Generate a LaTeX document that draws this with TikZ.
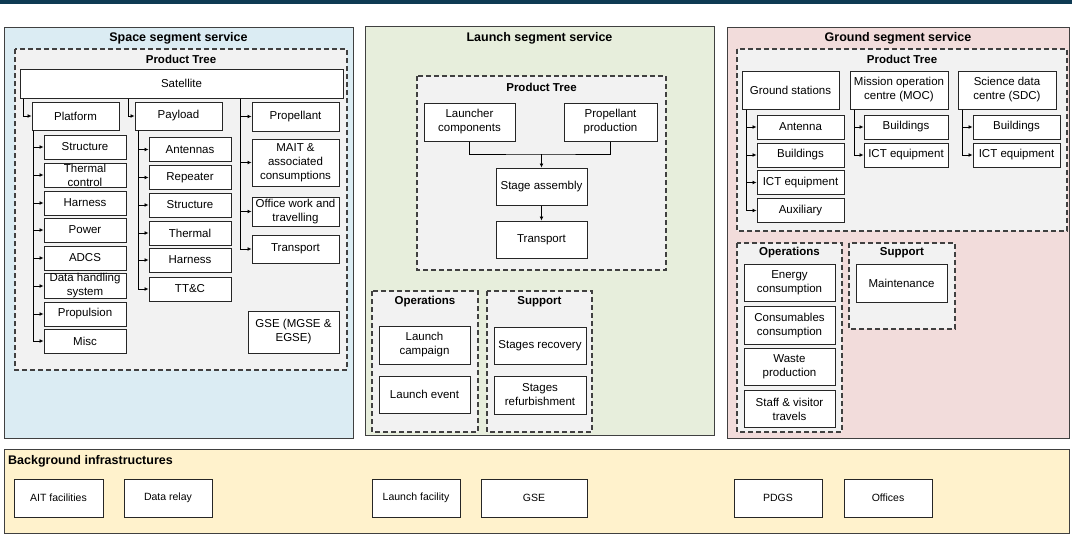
\documentclass[tikz,border=0pt]{standalone}
\usepackage{fontspec}
\setmainfont{Liberation Sans}
\usetikzlibrary{arrows.meta}
\definecolor{topbar}{HTML}{0E3A53}
\definecolor{spacebg}{HTML}{DBECF3}
\definecolor{launchbg}{HTML}{E7EEDC}
\definecolor{groundbg}{HTML}{F2DCDB}
\definecolor{infrabg}{HTML}{FFF2CC}
\definecolor{treebg}{HTML}{F2F2F2}
\definecolor{edge}{HTML}{404040}
\tikzset{
  segbox/.style={draw=edge, line width=1pt},
  treebox/.style={draw=edge, fill=treebg, line width=1.2pt, dash pattern=on 5pt off 3pt},
  leaf/.style={draw=black!85, fill=white, line width=1pt, align=center, inner xsep=1pt, inner ysep=0pt, font=\fontsize{11.5}{14}\selectfont},
  infra/.style={leaf, minimum height=38pt, font=\fontsize{10.5}{13}\selectfont},
  segtitle/.style={font=\bfseries\fontsize{12.5}{14}\selectfont},
  treetitle/.style={font=\bfseries\fontsize{11.5}{13}\selectfont},
  arr/.style={line width=1pt, -{Latex[length=4pt,width=4pt]}},
  link/.style={line width=1pt}
}
\begin{document}
\begin{tikzpicture}[x=1pt,y=-1pt]
	\fill[white] (0,0) rectangle (1072,536);
	\useasboundingbox (0,0) rectangle (1072,536);
	\fill[topbar] (0,0) rectangle (1072,4);

	% space segment
	\draw[segbox, fill=spacebg] (4,27) rectangle (353,438);
	\node[segtitle] (spacetitle) at (178.5,38) {Space segment service};
	\draw[treebox] (15,49) rectangle (347,370);
	\node[treetitle] (spacetree) at (181,59) {Product Tree};
	\node[leaf, minimum width=323pt, minimum height=29pt] (sat) at (181.5,83.5) {Satellite};
	\node[leaf, minimum width=87pt, minimum height=28pt] (pf) at (75.5,116) {Platform};
	\node[leaf, minimum width=87pt, minimum height=28pt] (pl) at (178.5,116) {Payload};
	\node[leaf, minimum width=87pt, minimum height=29pt] (prop) at (295.5,116.5) {Propellant};
	\draw[arr] (sat.south -| 23,0) |- (pf);
	\draw[arr] (sat.south -| 128,0) |- (pl);
	% platform
	\foreach \n/\y/\t in {pf1/147/Structure, pf2/175/{Thermal\\control}, pf3/203/Harness, pf4/230/Power,
		pf5/258/ADCS, pf6/286/{Data handling\\system}, pf7/314/Propulsion, pf8/341/Misc}
	{
		\node[leaf, minimum width=82pt, minimum height=24pt] (\n) at (85,\y) {\t};
		\draw[arr] ([xshift=2pt]pf.south west) |- (\n);
	}
	% payload
	\foreach \n/\y/\t in {pl1/149.5/Antennas, pl2/177.5/Repeater, pl3/205/Structure, pl4/233/Thermal,
		pl5/260/Harness, pl6/289/TT\&C}
	{
		\node[leaf, minimum width=82pt, minimum height=24pt] (\n) at (190,\y) {\t};
		\draw[arr] ([xshift=4pt]pl.south west) |- (\n);
	}
	% propellant column
	\node[leaf, minimum width=87pt, minimum height=47pt] (mait) at (295.5,162.5) {MAIT \&\\associated\\consumptions};
	\node[leaf, minimum width=87pt, minimum height=29pt] (office) at (295.5,211.5) {Office work and\\travelling};
	\node[leaf, minimum width=87pt, minimum height=28pt] (sptr) at (295.5,249) {Transport};
	\node[leaf, minimum width=91pt, minimum height=42pt] (gsem) at (293.5,332) {GSE (MGSE \&\\EGSE)};
	\coordinate (proptrunk) at (sat.south -| 240,0);
	\foreach \n in {prop, mait, office, sptr}
		\draw[arr] (proptrunk) |- (\n);

	% launch segment
	\draw[segbox, fill=launchbg] (365,26) rectangle (714,435);
	\node[segtitle] (launchtitle) at (539.5,38) {Launch segment service};
	\draw[treebox] (417,76) rectangle (666,270);
	\node[treetitle] (launchtree) at (541.5,87) {Product Tree};
	\node[leaf, minimum width=91pt, minimum height=38pt] (lc) at (469.5,122) {Launcher\\components};
	\node[leaf, minimum width=93pt, minimum height=38pt] (pp) at (610.5,122) {Propellant\\production};
	\node[leaf, minimum width=91pt, minimum height=37pt] (sa) at (541.5,186.5) {Stage assembly};
	\node[leaf, minimum width=91pt, minimum height=37pt] (ltr) at (541.5,239.5) {Transport};
	\coordinate (merge) at (541.5,154);
	\draw[link] (lc.south) |- (merge) -| (pp.south);
	\draw[arr] (merge) -- (sa);
	\draw[arr] (sa) -- (ltr);
	% launch operations / support
	\draw[treebox] (372,291) rectangle (478,432);
	\node[treetitle] (lops) at (425,302) {Operations};
	\node[leaf, minimum width=91pt, minimum height=38pt] (lcamp) at (424.5,345) {Launch\\campaign};
	\node[leaf, minimum width=91pt, minimum height=37pt] (levent) at (424.5,394.5) {Launch event};
	\draw[treebox] (487,291) rectangle (592,432);
	\node[treetitle] (lsup) at (539.5,302) {Support};
	\node[leaf, minimum width=92pt, minimum height=37pt] (srec) at (540,345.5) {Stages recovery};
	\node[leaf, minimum width=92pt, minimum height=38pt] (sref) at (540,395) {Stages\\refurbishment};

	% ground segment
	\draw[segbox, fill=groundbg] (727,27) rectangle (1069,438);
	\node[segtitle] (groundtitle) at (898,38) {Ground segment service};
	\draw[treebox] (737,49) rectangle (1067,231);
	\node[treetitle] (groundtree) at (902,59) {Product Tree};
	\node[leaf, minimum width=97pt, minimum height=38pt] (gs) at (790.5,90) {Ground stations};
	\node[leaf, minimum width=98pt, minimum height=38pt] (moc) at (899,90) {Mission operation\\centre (MOC)};
	\node[leaf, minimum width=98pt, minimum height=38pt] (sdc) at (1007,90) {Science data\\centre (SDC)};
	\foreach \n/\y/\t in {gs1/127/Antenna, gs2/155/Buildings, gs3/182.5/ICT equipment, gs4/210.5/Auxiliary}
	{
		\node[leaf, minimum width=87pt, minimum height=24pt] (\n) at (800.5,\y) {\t};
		\draw[arr] ([xshift=5pt]gs.south west) |- (\n);
	}
	\foreach \n/\y/\t in {moc1/127/Buildings, moc2/155/ICT equipment}
	{
		\node[leaf, minimum width=84pt, minimum height=24pt] (\n) at (906,\y) {\t};
		\draw[arr] ([xshift=5pt]moc.south west) |- (\n);
	}
	\foreach \n/\y/\t in {sdc1/127/Buildings, sdc2/155/ICT equipment}
	{
		\node[leaf, minimum width=87pt, minimum height=24pt] (\n) at (1016.5,\y) {\t};
		\draw[arr] ([xshift=5pt]sdc.south west) |- (\n);
	}
	% ground operations / support
	\draw[treebox] (737,243) rectangle (842,432);
	\node[treetitle] (gops) at (789.5,253) {Operations};
	\foreach \n/\y/\t in {gop1/283/{Energy\\consumption}, gop2/325.5/{Consumables\\consumption},
		gop3/367/{Waste\\production}, gop4/409/{Staff \& visitor\\travels}}
		\node[leaf, minimum width=91pt, minimum height=37.5pt] (\n) at (789.5,\y) {\t};
	\draw[treebox] (849,243) rectangle (955,329);
	\node[treetitle] (gsup) at (902,253) {Support};
	\node[leaf, minimum width=91pt, minimum height=38pt] (maint) at (901.5,283) {Maintenance};

	% background infrastructures
	\draw[segbox, fill=infrabg] (4,449) rectangle (1069,533);
	\node[segtitle, anchor=west, inner sep=0pt] (infratitle) at (8,461) {Background infrastructures};
	\foreach \n/\x/\w/\t in {ait/58.5/89/AIT facilities, relay/168/88/Data relay, lfac/416/88/Launch facility,
		gse/534/106/GSE, pdgs/778/88/PDGS, offices/888/88/Offices}
		\node[infra, minimum width=\w pt] (\n) at (\x,498) {\t};
\end{tikzpicture}
\end{document}
